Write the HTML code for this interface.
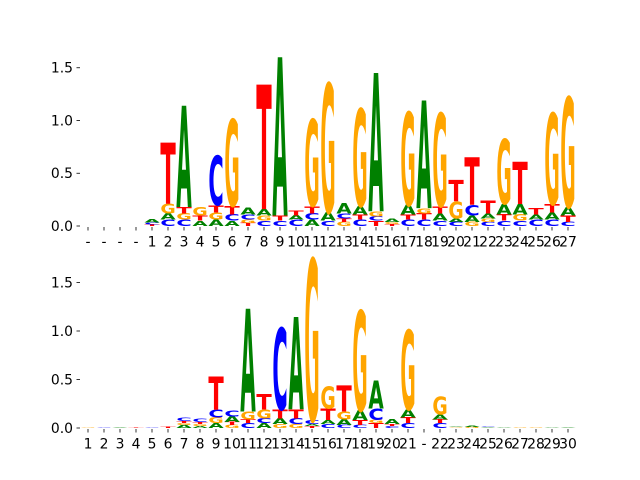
<!DOCTYPE html>
<html><head><meta charset="utf-8"><style>
body{margin:0;background:#fff}
svg{display:block;font-family:"DejaVu Sans","Liberation Sans",sans-serif}
</style></head><body>
<svg id="chart" width="640" height="480" viewBox="0 0 640 480" xmlns="http://www.w3.org/2000/svg">
<g id="top"></g>
<g id="bot"></g>
</svg>
<script>
// ---- data ----
const topLabels = ["-","-","-","-","1","2","3","4","5","6","7","8","9","10","11","12","13","14","15","16","17","18","19","20","21","22","23","24","25","26","27"];
const topLetters = ["","","","","TCA","CAGT","CGTA","ATG","AGTC","ACTG","TGCA","CGAT","CTA","CAT","ACTG","CAG","GTCA","CTAG","TCGA","TGA","CTAG","CTGA","CATG","CAGT","GACT","CGAT","CTAG","CGAT","CAT","CATG","CTAG"];
const topValues = [[],[],[],[],[0.015,0.02,0.03],[0.06,0.06,0.09,0.58],[0.06,0.06,0.06,0.96],[0.05,0.05,0.08],[0.06,0.07,0.07,0.47],[0.05,0.06,0.08,0.82],[0.03,0.03,0.05,0.07],[0.05,0.05,0.06,1.18],[0.05,0.05,1.5],[0.06,0.04,0.05],[0.06,0.06,0.07,0.82],[0.05,0.08,1.22],[0.04,0.03,0.05,0.1],[0.06,0.05,0.08,0.92],[0.05,0.04,0.05,1.31],[0.02,0.02,0.03],[0.06,0.05,0.09,0.88],[0.06,0.06,0.05,1.02],[0.05,0.07,0.07,0.88],[0.04,0.03,0.16,0.2],[0.04,0.06,0.1,0.45],[0.04,0.03,0.05,0.12],[0.05,0.06,0.1,0.61],[0.05,0.06,0.1,0.4],[0.06,0.05,0.06],[0.06,0.07,0.08,0.86],[0.04,0.06,0.08,1.04]];
const topTicks = [0,0.5,1.0,1.5];
const topTickLabels = ["0.0","0.5","1.0","1.5"];

const botLabels = ["1","2","3","4","5","6","7","8","9","10","11","12","13","14","15","16","17","18","19","20","21","-","22","23","24","25","26","27","28","29","30"];
const botLetters = ["G","C","A","T","C","T","AGTC","AGTC","AGCT","GTAC","CTGA","ACGT","GATC","GCTA","TACG","CATG","CAGT","CTAG","TGCA","CTA","CTAG","","CTAG","GA","GA","AC","A","G","G","A","A"];
const botValues = [[0.004],[0.004],[0.005],[0.003],[0.004],[0.012],[0.03,0.02,0.02,0.03],[0.02,0.02,0.02,0.03],[0.05,0.06,0.08,0.34],[0.03,0.03,0.06,0.06],[0.05,0.04,0.08,1.06],[0.05,0.05,0.09,0.16],[0.04,0.06,0.09,0.84],[0.04,0.06,0.09,0.95],[0.02,0.02,0.04,1.66],[0.04,0.04,0.12,0.23],[0.03,0.06,0.08,0.27],[0.03,0.05,0.1,1.03],[0.05,0.03,0.12,0.29],[0.02,0.02,0.05],[0.05,0.06,0.08,0.82],[],[0.05,0.04,0.05,0.19],[0.008,0.008],[0.01,0.01],[0.008,0.006],[0.006],[0.006],[0.005],[0.006],[0.008]];
const botTicks = [0,0.5,1.0,1.5];
const botTickLabels = ["0.0","0.5","1.0","1.5"];

const colors = {A:"#008000",C:"#0000ff",G:"#ffa500",T:"#ff0000"};
const NS = "http://www.w3.org/2000/svg";
const CAP = 0.729; // cap height of DejaVu Sans Bold (em)

function drawPanel(g, labels, letters, values, ticks, tickLabels, y0, pxPerUnit, name) {
  const left = 80, right = 576;
  const n = labels.length;
  const colW = (right - left) / n;
  const xScale = i => left + colW * (i + 0.5);
  const yScale = v => y0 - v * pxPerUnit;
  ticks.forEach((t, k) => {
    const y = yScale(t);
    const ln = document.createElementNS(NS, "line");
    ln.setAttribute("x1", 76.5); ln.setAttribute("x2", 80);
    ln.setAttribute("y1", y); ln.setAttribute("y2", y);
    ln.setAttribute("stroke", "#000"); ln.setAttribute("stroke-width", "0.8");
    
    
    g.appendChild(ln);
    const tx = document.createElementNS(NS, "text");
    tx.setAttribute("x", 73); tx.setAttribute("y", y + 4.8);
    tx.setAttribute("text-anchor", "end"); tx.setAttribute("font-size", "13.9");
    tx.textContent = tickLabels[k];
    
    
    g.appendChild(tx);
  });
  labels.forEach((lab, i) => {
    const x = xScale(i);
    const ln = document.createElementNS(NS, "line");
    ln.setAttribute("x1", x); ln.setAttribute("x2", x);
    ln.setAttribute("y1", y0 + 1); ln.setAttribute("y2", y0 + 4.5);
    ln.setAttribute("stroke", "#000"); ln.setAttribute("stroke-width", "0.8");
    
    
    g.appendChild(ln);
    const tx = document.createElementNS(NS, "text");
    tx.setAttribute("x", x); tx.setAttribute("y", y0 + 20.5);
    tx.setAttribute("text-anchor", "middle"); tx.setAttribute("font-size", "13.9");
    tx.textContent = lab;
    
    
    g.appendChild(tx);
  });
  const lw = colW * 0.96;
  letters.forEach((str, i) => {
    let acc = 0;
    const vals = values[i];
    for (let k = 0; k < str.length; k++) {
      const ch = str[k], v = vals[k];
      const yb = yScale(acc), yt = yScale(acc + v);
      const h = yb - yt;
      acc += v;
      if (h <= 0) continue;
      const fs = 100;
      const sy = h / (fs * CAP);
      const t = document.createElementNS(NS, "text");
      t.setAttribute("x", 0); t.setAttribute("y", 0);
      t.setAttribute("font-size", fs);
      t.setAttribute("font-weight", "bold");
      t.setAttribute("fill", colors[ch]);
      t.setAttribute("textLength", lw);
      t.setAttribute("lengthAdjust", "spacingAndGlyphs");
      t.setAttribute("transform", `translate(${xScale(i) - lw / 2},${yb}) scale(1,${sy})`);
      t.textContent = ch;
      
      
      g.appendChild(t);
    }
  });
}
drawPanel(document.getElementById("top"), topLabels, topLetters, topValues, topTicks, topTickLabels, 226, 105.5, "top");
drawPanel(document.getElementById("bot"), botLabels, botLetters, botValues, botTicks, botTickLabels, 428, 97, "bot");
</script>
</body></html>
